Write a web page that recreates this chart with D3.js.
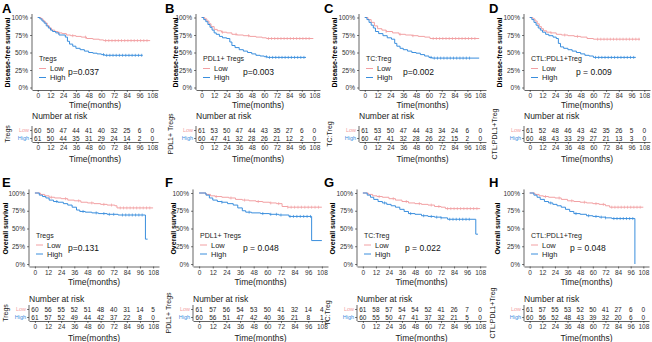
<!DOCTYPE html>
<html>
<head>
<meta charset="utf-8">
<script src="https://cdn.jsdelivr.net/npm/d3@7"></script>
<style>
body { margin: 0; background: #fff; }
text { font-family: "Liberation Sans", Arial, sans-serif; }
</style>
</head>
<body>
<div id="fig"></div>
<script>
const LOW = "#F2A0A3", HIGH = "#3A8EDD";

// shared ticks
const timeTicks = [0, 12, 24, 36, 48, 60, 72, 84, 96, 108];
const survTicks = [0, 0.25, 0.5, 0.75, 1];

// Kaplan-Meier steps: [time, survival], last entry = end of follow-up
const aLow = [[0,1],[3,.98],[5,.95],[7,.92],[9,.88],[11,.85],[13,.82],[16,.80],[19,.78],[23,.77],[27,.75],[31,.74],[36,.73],[41,.72],[46,.70],[52,.69],[58,.68],[62,.67],[106,.67]];
const aHigh = [[0,1],[2,.98],[4,.95],[6,.92],[8,.88],[10,.85],[12,.82],[14,.80],[17,.78],[20,.75],[26,.72],[28,.66],[30,.62],[33,.59],[36,.56],[40,.54],[44,.52],[48,.50],[52,.49],[56,.48],[60,.47],[63,.46],[99,.46]];
const bLow = [[0,1],[3,.98],[5,.95],[7,.91],[9,.87],[12,.83],[15,.81],[19,.79],[24,.78],[29,.76],[34,.75],[40,.74],[46,.73],[52,.72],[58,.71],[62,.70],[107,.70]];
const bHigh = [[0,1],[2,.97],[4,.94],[6,.90],[8,.86],[10,.82],[12,.78],[14,.76],[17,.73],[20,.71],[24,.70],[27,.65],[29,.60],[32,.57],[36,.54],[40,.52],[44,.50],[48,.48],[52,.46],[56,.45],[60,.44],[63,.43],[100,.43]];
const cLow = [[0,1],[3,.97],[6,.93],[9,.88],[12,.84],[16,.82],[20,.80],[26,.78],[32,.76],[38,.75],[44,.74],[50,.73],[56,.72],[61,.70],[107,.70]];
const cHigh = [[0,1],[2,.97],[4,.93],[6,.89],[8,.85],[10,.80],[13,.77],[17,.74],[21,.71],[25,.69],[28,.63],[30,.59],[33,.56],[36,.54],[40,.52],[44,.50],[48,.49],[52,.47],[56,.45],[60,.43],[63,.42],[107,.42]];
const dLow = [[0,1],[3,.98],[5,.95],[7,.91],[9,.87],[11,.84],[13,.81],[16,.79],[20,.78],[25,.76],[30,.75],[36,.74],[42,.73],[48,.72],[54,.70],[60,.69],[104,.69]];
const dHigh = [[0,1],[2,.97],[4,.93],[6,.89],[8,.85],[10,.82],[12,.79],[15,.76],[18,.74],[22,.72],[25,.70],[27,.63],[29,.58],[32,.56],[36,.54],[40,.52],[44,.50],[48,.48],[52,.46],[56,.45],[60,.43],[100,.43]];
const eLow = [[0,1],[5,.98],[9,.96],[13,.94],[18,.93],[24,.92],[30,.90],[36,.89],[42,.87],[48,.86],[54,.85],[60,.84],[66,.83],[73,.82],[75,.79],[108,.79]];
const eHigh = [[0,1],[4,.97],[7,.95],[10,.93],[13,.90],[17,.88],[21,.87],[26,.85],[30,.83],[34,.80],[38,.76],[41,.74],[46,.73],[52,.72],[58,.71],[66,.70],[76,.69],[101,.35],[103,.35]];
const fLow = [[0,1],[6,.98],[10,.96],[14,.95],[20,.94],[26,.93],[32,.91],[38,.90],[44,.89],[50,.88],[56,.87],[62,.86],[68,.85],[73,.81],[78,.80],[108,.80]];
const fHigh = [[0,1],[6,.97],[9,.93],[12,.90],[16,.88],[20,.87],[25,.85],[30,.83],[34,.79],[38,.75],[41,.73],[46,.72],[54,.71],[62,.70],[70,.69],[79,.67],[99,.33],[108,.33]];
const gLow = [[0,1],[5,.98],[9,.96],[13,.95],[18,.94],[24,.92],[30,.90],[36,.88],[42,.86],[48,.85],[54,.84],[60,.83],[66,.81],[72,.80],[76,.78],[108,.78]];
const gHigh = [[0,1],[4,.97],[7,.94],[10,.91],[14,.88],[18,.86],[22,.84],[26,.82],[30,.80],[34,.77],[38,.74],[42,.71],[48,.70],[54,.68],[60,.67],[66,.66],[72,.65],[78,.63],[104,.42],[106,.42]];
const hLow = [[0,1],[5,.98],[9,.96],[13,.95],[18,.94],[24,.93],[30,.91],[36,.89],[42,.88],[48,.87],[54,.86],[60,.85],[66,.84],[72,.82],[76,.80],[108,.80]];
const hHigh = [[0,1],[4,.97],[7,.94],[10,.91],[14,.88],[18,.86],[22,.84],[26,.82],[30,.80],[34,.77],[38,.74],[42,.71],[48,.70],[54,.68],[60,.67],[66,.66],[72,.65],[78,.64],[100,0]];

// censoring times
const tailLow = [20, 33, 45, 64, 67, 70, 73, 76, 79, 82, 85, 88, 91, 94, 97, 100, 103];
const tailHigh = [62, 65, 68, 71, 74, 77, 80, 83, 86, 89, 92, 95, 98];
const osLow = [15, 28, 40, 52, 63, 70, 78, 81, 84, 87, 90, 93, 96, 99, 102, 105];
const osHigh = [20, 44, 56, 63, 68, 72, 80, 83, 86, 89, 92, 95, 98];

// number at risk
const aRiskLow = [60,50,47,44,41,40,32,25,6,0], aRiskHigh = [61,50,44,35,31,29,24,14,2,0];
const bRiskLow = [61,53,50,47,44,43,35,27,6,0], bRiskHigh = [60,47,41,32,28,26,21,12,2,0];
const cRiskLow = [61,53,50,47,44,43,34,24,6,0], cRiskHigh = [60,47,41,32,28,26,22,15,2,0];
const dRiskLow = [61,52,48,46,43,42,35,26,5,0], dRiskHigh = [60,48,43,33,29,27,21,13,3,0];
const eRiskLow = [60,56,55,52,51,48,40,31,14,5], eRiskHigh = [61,57,52,49,44,42,37,22,8,0];
const fRiskLow = [61,57,56,54,53,50,41,32,14,4], fRiskHigh = [60,56,51,47,42,40,36,21,8,1];
const gRiskLow = [61,58,57,54,54,52,41,26,7,0], gRiskHigh = [60,55,50,47,41,37,32,21,5,0];
const hRiskLow = [61,57,55,53,52,50,41,27,6,0], hRiskHigh = [60,56,52,48,43,39,32,20,6,0];

const letters = ["A","B","C","D","E","F","G","H"];
const groups = ["Tregs","PDL1+ Tregs","TC:Treg","CTL:PDL1+Treg","Tregs","PDL1+ Tregs","TC:Treg","CTL:PDL1+Treg"];
const pvals = ["p=0.037","p=0.003","p=0.002","p = 0.009","p=0.131","p = 0.048","p = 0.022","p = 0.048"];
const yTitles = ["Disease-free survival","Overall survival"];

const lows = [aLow,bLow,cLow,dLow,eLow,fLow,gLow,hLow];
const highs = [aHigh,bHigh,cHigh,dHigh,eHigh,fHigh,gHigh,hHigh];
const riskLows = [aRiskLow,bRiskLow,cRiskLow,dRiskLow,eRiskLow,fRiskLow,gRiskLow,hRiskLow];
const riskHighs = [aRiskHigh,bRiskHigh,cRiskHigh,dRiskHigh,eRiskHigh,fRiskHigh,gRiskHigh,hRiskHigh];

// layout: axis left / right end, x of panel, p-value offset
const layout = [
  {left: 32, right: 158, ox: 0, px: 36},
  {left: 196, right: 320, ox: 163, px: 47},
  {left: 359, right: 486, ox: 322, px: 44},
  {left: 524, right: 650, ox: 487, px: 52},
  {left: 29, right: 159, ox: 0, px: 39},
  {left: 193, right: 328, ox: 163, px: 50},
  {left: 357, right: 486, ox: 322, px: 48},
  {left: 524, right: 649, ox: 487, px: 46}
];
const rows = [
  {dy: 0, y1: 17.5, y0: 87.5, axisY: 90, yTitleX: 7},
  {dy: 174, y1: 193, y0: 264, axisY: 266.5, yTitleX: 5}
];

const svg = d3.select("#fig").append("svg")
  .attr("width", 652).attr("height", 342);

function survAt(steps, t) {
  let s = 1;
  steps.forEach(p => { if (p[0] <= t) s = p[1]; });
  return s;
}

function styleAxis(g, size) {
  g.select(".domain").attr("stroke", "#222").attr("stroke-width", 0.7);
  g.selectAll(".tick line").attr("stroke", "#222").attr("stroke-width", 0.6);
  g.selectAll(".tick text").attr("fill", "#333").style("font-size", size + "px")
    .style("font-family", "Liberation Sans, Arial, sans-serif");
}

letters.forEach((letter, i) => {
  const L = layout[i];
  const R = rows[i < 4 ? 0 : 1];
  const dy = R.dy;
  const g = svg.append("g");

  const x = d3.scaleLinear().domain([-5.4, 113.4]).range([L.left, L.right]);
  const y = d3.scaleLinear().domain([0, 1]).range([R.y0, R.y1]);

  // panel letter
  g.append("text").attr("x", L.ox + 2).attr("y", 13 + dy)
    .style("font-size", "13px").style("font-weight", "bold").text(letter);

  // axes
  const ya = g.append("g").attr("transform", `translate(${L.left},0)`)
    .call(d3.axisLeft(y).tickValues(survTicks).tickFormat(d3.format(".0%")).tickSize(2).tickPadding(2).tickSizeOuter(0));
  ya.select(".domain").attr("d", `M0,${R.axisY}V${y(1.05)}`);
  styleAxis(ya, 6.5);

  const xa = g.append("g").attr("transform", `translate(0,${R.axisY})`)
    .call(d3.axisBottom(x).tickValues(timeTicks).tickSize(2).tickPadding(1.5).tickSizeOuter(0));
  styleAxis(xa, 6.5);

  g.append("text").attr("x", (x(0) + x(108)) / 2).attr("y", R.axisY + 18)
    .attr("text-anchor", "middle").style("font-size", "8.5px").attr("fill", "#222")
    .text("Time(months)");

  g.append("text")
    .attr("transform", `translate(${L.ox + R.yTitleX + (i % 4 === 0 ? 0 : 5)},${(R.y0 + R.y1) / 2}) rotate(-90)`)
    .attr("text-anchor", "middle").attr("dominant-baseline", "central")
    .style("font-size", "7px").style("font-weight", "bold").text(yTitles[i < 4 ? 0 : 1]);

  // curves
  const line = d3.line().x(d => x(d[0])).y(d => y(d[1])).curve(d3.curveStepAfter);
  const series = [
    {steps: lows[i], color: LOW, cens: i < 4 ? tailLow : osLow},
    {steps: highs[i], color: HIGH, cens: i < 4 ? tailHigh : osHigh}
  ];
  series.forEach(s => {
    const end = s.steps[s.steps.length - 1][0];
    g.append("path").attr("d", line(s.steps)).attr("fill", "none")
      .attr("stroke", s.color).attr("stroke-width", 1);
    g.selectAll(null).data(s.cens.filter(t => t < end)).enter().append("line")
      .attr("x1", t => x(t)).attr("x2", t => x(t))
      .attr("y1", t => y(survAt(s.steps, t)) - 1.5)
      .attr("y2", t => y(survAt(s.steps, t)) + 1.5)
      .attr("stroke", s.color).attr("stroke-width", 0.7);
  });

  // legend
  const lx = L.left + 7;
  const ly = R.y0 - 29;
  g.append("text").attr("x", lx).attr("y", ly).attr("dominant-baseline", "central")
    .style("font-size", "7px").attr("fill", "#222").text(groups[i]);
  [["Low", LOW], ["High", HIGH]].forEach((d, k) => {
    const yy = ly + 10 + k * 9;
    g.append("line").attr("x1", lx).attr("x2", lx + 7).attr("y1", yy).attr("y2", yy)
      .attr("stroke", d[1]).attr("stroke-width", 1);
    g.append("text").attr("x", lx + 11).attr("y", yy).attr("dominant-baseline", "central")
      .style("font-size", "7.5px").attr("fill", "#222").text(d[0]);
  });
  g.append("text").attr("x", L.left + L.px).attr("y", ly + 13).attr("dominant-baseline", "central")
    .style("font-size", "8.5px").attr("fill", "#111").text(pvals[i]);

  // risk table
  const t0 = i < 4 ? 116 : 299;
  const rLow = t0 + (i < 4 ? 14 : 10);
  const rHigh = rLow + 8;
  const tabAxis = rHigh + 4;
  g.append("text").attr("x", L.left).attr("y", t0).attr("dominant-baseline", "central")
    .style("font-size", "8.5px").attr("fill", "#222").text("Number at risk");

  const ry = d3.scalePoint().domain(["Low", "High"]).range([rLow, rHigh]);
  const ra = g.append("g").attr("transform", `translate(${L.left},0)`)
    .call(d3.axisLeft(ry).tickSize(2).tickPadding(1).tickSizeOuter(0));
  ra.select(".domain").attr("d", `M0,${tabAxis}V${rLow - 4}`);
  styleAxis(ra, 5.5);
  ra.selectAll(".tick text").attr("fill", d => d === "Low" ? LOW : HIGH);

  [riskLows[i], riskHighs[i]].forEach((vals, k) => {
    g.selectAll(null).data(vals).enter().append("text")
      .attr("x", (d, j) => x(timeTicks[j])).attr("y", k === 0 ? rLow : rHigh)
      .attr("text-anchor", "middle").attr("dominant-baseline", "central")
      .style("font-size", "6.5px").attr("fill", "#222").text(d => d);
  });

  const ta = g.append("g").attr("transform", `translate(0,${tabAxis})`)
    .call(d3.axisBottom(x).tickValues(timeTicks).tickSize(2).tickPadding(1.5).tickSizeOuter(0));
  styleAxis(ta, 6.5);
  g.append("text").attr("x", (x(0) + x(108)) / 2).attr("y", tabAxis + 16.5)
    .attr("text-anchor", "middle").attr("dominant-baseline", "central")
    .style("font-size", "8.5px").attr("fill", "#222").text("Time(months)");

  g.append("text")
    .attr("transform", `translate(${L.ox + (i < 4 ? 7 : 5)},${(rLow + rHigh) / 2}) rotate(-90)`)
    .attr("text-anchor", "middle").attr("dominant-baseline", "central")
    .style("font-size", "7px").attr("fill", "#222").text(groups[i]);
});
</script>
</body>
</html>
